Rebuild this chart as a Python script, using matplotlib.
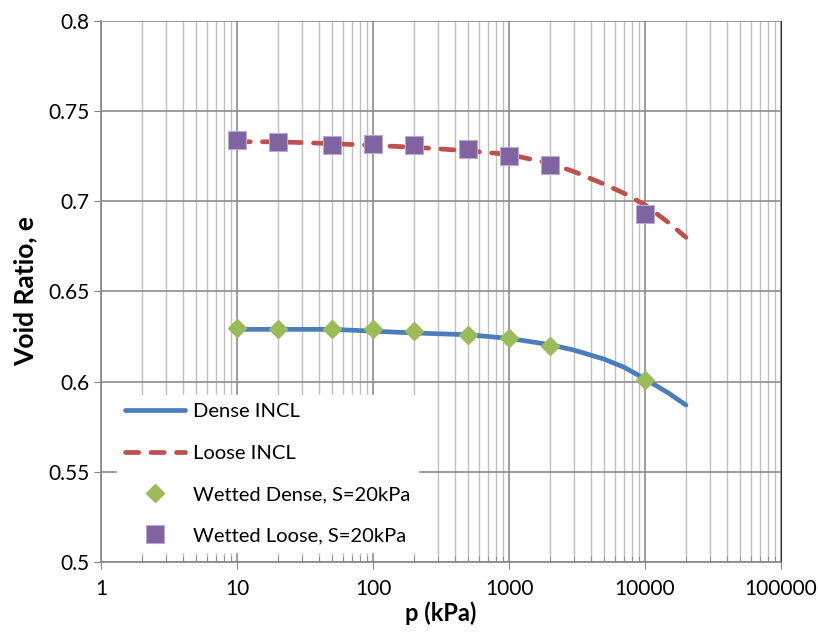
import matplotlib
matplotlib.use("Agg")
import matplotlib.pyplot as plt
from matplotlib.ticker import LogLocator, FixedLocator, NullFormatter

plt.rcParams['font.family'] = ['Lato', 'DejaVu Sans']

# INCL curves (void ratio vs mean stress)
p_line = [10, 20, 50, 100, 200, 500, 1000, 2000, 3000, 5000, 7000, 10000, 15000, 20000]
e_dense = [0.629, 0.629, 0.629, 0.628, 0.627, 0.626, 0.624, 0.6205, 0.6175, 0.6125, 0.608, 0.6015, 0.5935, 0.587]
e_loose = [0.733, 0.733, 0.732, 0.731, 0.730, 0.728, 0.726, 0.721, 0.7165, 0.7095, 0.7045, 0.698, 0.688, 0.680]

# wetted test points
p_wet = [10, 20, 50, 100, 200, 500, 1000, 2000, 10000]
e_wet_dense = [0.630, 0.629, 0.629, 0.629, 0.628, 0.626, 0.624, 0.620, 0.601]
e_wet_loose = [0.734, 0.733, 0.731, 0.732, 0.731, 0.729, 0.725, 0.720, 0.693]

x_ticks = [1, 10, 100, 1000, 10000, 100000]
x_labels = ['1', '10', '100', '1000', '10000', '100000']
y_ticks = [0.5, 0.55, 0.6, 0.65, 0.7, 0.75, 0.8]
y_labels = ['0.5', '0.55', '0.6', '0.65', '0.7', '0.75', '0.8']

fig = plt.figure(figsize=(8.18, 6.34), dpi=100)
ax = fig.add_axes([0.1235, 0.1136, 0.8313, 0.8533])

ax.plot(p_line, e_dense, color='#4a7ebb', lw=3.4, solid_capstyle='round',
        label='Dense INCL', zorder=3)
ax.plot(p_line, e_loose, color='#c0504d', lw=3.4, ls=(0, (2.8, 2.6)), dash_capstyle='round',
        label='Loose INCL', zorder=3)
ax.plot(p_wet, e_wet_dense, ls='none', marker='D', ms=9.5, color='#9bbb59', mec='#9bbb59',
        label='Wetted Dense, S=20kPa', zorder=4)
ax.plot(p_wet, e_wet_loose, ls='none', marker='s', ms=12.5, color='#8064a2', mec='#b9a8d0', mew=0.8,
        label='Wetted Loose, S=20kPa', zorder=4)

ax.set_xscale('log')
ax.set_xlim(1, 100000)
ax.set_ylim(0.5, 0.8)
ax.xaxis.set_major_locator(FixedLocator(x_ticks))
ax.set_xticklabels(x_labels)
ax.xaxis.set_minor_locator(LogLocator(base=10, subs=range(2, 10)))
ax.xaxis.set_minor_formatter(NullFormatter())
ax.set_yticks(y_ticks)
ax.set_yticklabels(y_labels)

ax.grid(True, which='major', color='#8c8c8c', lw=1.2)
ax.grid(True, which='minor', axis='x', color='#c0c0c0', lw=1.0)
ax.set_axisbelow(True)

ax.spines['top'].set_visible(False)
ax.spines['right'].set_color('#333333')
ax.spines['left'].set_color('#868686')
ax.spines['bottom'].set_color('#868686')
ax.spines['left'].set_linewidth(1.2)
ax.spines['bottom'].set_linewidth(1.2)

ax.tick_params(axis='both', which='major', labelsize=15, length=5, color='#868686', direction='out')
ax.tick_params(axis='x', which='minor', length=4, color='#868686', direction='in')
ax.tick_params(axis='x', pad=7)

ax.set_xlabel('p (kPa)', fontsize=17, fontweight='bold', labelpad=2)
ax.set_ylabel('Void Ratio, e', fontsize=19, fontweight='bold', labelpad=8)

leg = ax.legend(loc='lower left', bbox_to_anchor=(0.023, 0.018), borderaxespad=0, fontsize=14.5,
                frameon=True, fancybox=False, edgecolor='white', facecolor='white', framealpha=1,
                handlelength=3.0, labelspacing=1.2, borderpad=0.4, handletextpad=0.4)
leg.set_zorder(5)

plt.savefig("out.png", dpi=100)
